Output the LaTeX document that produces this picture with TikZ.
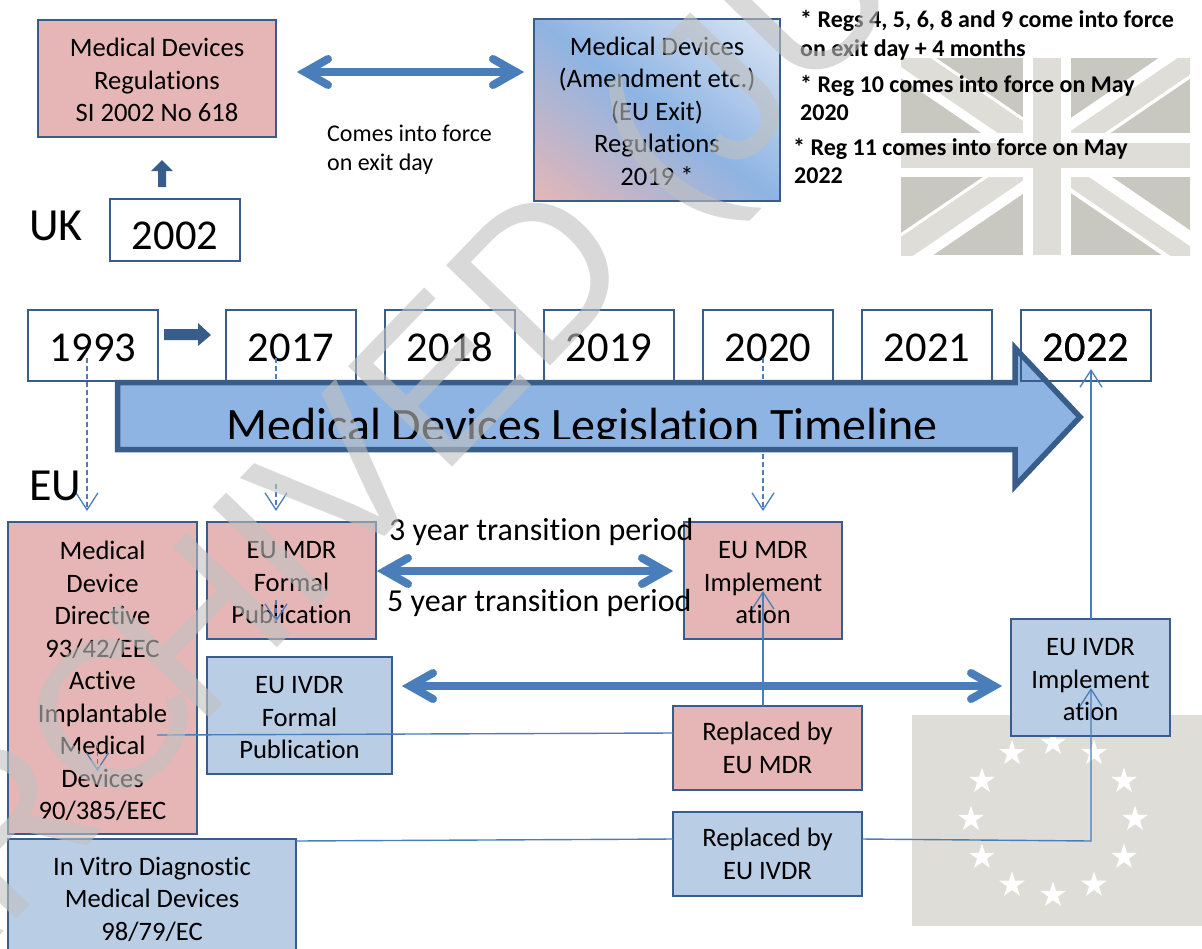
\documentclass[tikz,border=0pt]{standalone}
\usepackage{fontspec}
\setmainfont{Carlito}[Ligatures={NoCommon}]
\newfontfamily\wmfont{Liberation Sans}
\usetikzlibrary{arrows.meta,shapes.geometric,calc}
\definecolor{pinkbox}{HTML}{E6B6B6}
\definecolor{bluebox}{HTML}{B9CDE5}
\definecolor{edge}{HTML}{385D8A}
\definecolor{conn}{HTML}{4A7EBB}
\definecolor{bigfill}{HTML}{8EB4E3}
\definecolor{lightblue}{HTML}{DCE6F4}
\definecolor{flagdark}{HTML}{C8C8C0}
\definecolor{flaglight}{HTML}{DEDDD7}
\definecolor{wm}{HTML}{C0C0C0}
\pgfdeclarehorizontalshading{regsgrad}{100bp}{color(0bp)=(pinkbox);color(15bp)=(pinkbox);color(50bp)=(bigfill);color(85bp)=(lightblue);color(100bp)=(lightblue)}
\newcommand{\tl}[1]{\rule{0pt}{#1pt}}
% bands of the flag, measured as vertical offsets from its two diagonals
\newcommand{\mainband}[3]{\fill[#3] (901,58+#1) -- (1191,256+#1) -- (1191,256+#2) -- (901,58+#2) -- cycle;}
\newcommand{\antiband}[3]{\fill[#3] (901,256+#1) -- (1191,58+#1) -- (1191,58+#2) -- (901,256+#2) -- cycle;}
\tikzset{
  x=1pt,y=-1pt,
  boxtext/.style={font=\fontsize{26.6}{32.5}\selectfont,align=center},
  plain/.style={draw=edge,line width=1.8pt,inner sep=0pt,outer sep=0pt,text=black},
  pinkb/.style={plain,boxtext,fill=pinkbox},
  blueb/.style={plain,boxtext,fill=bluebox},
  yearb/.style={plain,fill=white,font=\fontsize{42.5}{42.5}\selectfont,minimum width=130pt,minimum height=71pt,text height=31pt,text depth=0pt},
  bigdbl/.style={draw=conn,line width=8pt,line cap=round,line join=miter,miter limit=10},
  thin/.style={draw=conn,line width=1.4pt},
  tipo/.style={-{Straight Barb[length=17pt,width=22pt,line width=1.3pt]}},
  dashc/.style={thin,dash pattern=on 5pt off 3pt},
  note/.style={font=\fontsize{24}{29}\selectfont\bfseries,anchor=base west,inner sep=0pt},
  small/.style={font=\fontsize{24}{29}\selectfont,anchor=base west,inner sep=0pt},
  big/.style={font=\fontsize{46}{46}\selectfont,anchor=base west,inner sep=0pt},
  trans/.style={font=\fontsize{32}{32}\selectfont,anchor=base west,inner sep=0pt},
}
\begin{document}
\begin{tikzpicture}
\clip (0,0) rectangle (1202,948);
\fill[white] (0,0) rectangle (1202,948);

% Union flag
\fill[flagdark] (901,58) rectangle (1190,255);
\begin{scope}
\clip (901,58) rectangle (1023,133);
\mainband{-24}{-20}{white}\mainband{-20}{9}{flaglight}\mainband{9}{20}{white}
\end{scope}
\begin{scope}
\clip (1071,177) rectangle (1190,255);
\mainband{-25}{-9}{white}\mainband{-9}{14}{flaglight}\mainband{14}{19}{white}
\end{scope}
\begin{scope}
\clip (1071,58) rectangle (1190,133);
\antiband{-22}{-9}{white}\antiband{-9}{16}{flaglight}\antiband{16}{20}{white}
\end{scope}
\begin{scope}
\clip (901,177) rectangle (1023,255);
\antiband{-23}{-19}{white}\antiband{-19}{8}{flaglight}\antiband{8}{21}{white}
\end{scope}
\fill[white] (1023,58) rectangle (1071,255);
\fill[white] (901,133) rectangle (1190,177);
\fill[flaglight] (1033,58) rectangle (1061,255);
\fill[flaglight] (901,143) rectangle (1190,168);

% EU flag
\fill[flaglight] (912,715) rectangle (1202,926);
\foreach \a in {0,30,...,330}
  \node[star,star points=5,star point ratio=2.618,fill=white,inner sep=0pt,minimum size=27pt,rotate=0] (st\a) at ({1053+82*cos(\a)},{819+76*sin(\a)}) {};

% UK part
\node[pinkb,minimum width=238pt,minimum height=117pt] (mdr) at (157,78.5) {\tl{21.5}Medical Devices\\Regulations\\SI 2002 No 618};
\node[plain,fill=white,font=\fontsize{42.5}{42.5}\selectfont,minimum width=130pt,minimum height=62pt,text height=38pt,text depth=0pt] (y2002) at (175,230) {2002};
\fill[edge] (158,187) -- (158,171) -- (151,171) -- (162,160) -- (173,171) -- (166,171) -- (166,187) -- cycle;
\node[plain,boxtext,shading=regsgrad,shading angle=53,minimum width=246pt,minimum height=182pt] (regs) at (657,110) {\tl{21}Medical Devices\\(Amendment etc.)\\(EU Exit)\\Regulations\\2019 *};
\coordinate (d1a) at (305,72); \coordinate (d1b) at (516,72);
\draw[bigdbl] (d1a) -- (d1b);
\draw[bigdbl] ($(d1a)+(23,-13)$) -- (d1a) -- ($(d1a)+(23,13)$);
\draw[bigdbl] ($(d1b)+(-23,-13)$) -- (d1b) -- ($(d1b)+(-23,13)$);
\node[small] (force1) at (327,141) {Comes into force};
\node[small] (force2) at (327,170) {on exit day};
\node[big] (uk) at (29,240) {UK};
\node[note] (n1) at (800,27) {* Regs 4, 5, 6, 8 and 9 come into force};
\node[note] (n2) at (800,56) {on exit day + 4 months};
\node[note] (n3) at (800,92) {* Reg 10 comes into force on May};
\node[note] (n4) at (800,120) {2020};
\node[note] (n5) at (793,155) {* Reg 11 comes into force on May};
\node[note] (n6) at (794,183) {2022};

% Year boxes
\node[yearb] (y1993) at (93,345.5) {1993};
\node[yearb] (y2017) at (291,345.5) {2017};
\node[yearb] (y2018) at (450,345.5) {2018};
\node[yearb] (y2019) at (609,345.5) {2019};
\node[yearb] (y2020) at (768,345.5) {2020};
\node[yearb] (y2021) at (927,345.5) {2021};
\node[yearb] (y2022) at (1086,345.5) {2022};
\fill[edge] (164,329) -- (198,329) -- (198,323) -- (211,335) -- (198,346) -- (198,340) -- (164,340) -- cycle;

% dashed connectors (behind the big arrow)
\coordinate (c1993) at (87,358); \coordinate (e1993) at (87,511);
\coordinate (c2017) at (276,358); \coordinate (m2017) at (276,381);
\coordinate (n2017) at (276,484); \coordinate (e2017) at (276,511);
\coordinate (c2020) at (763,358); \coordinate (e2020) at (763,511);
\draw[dashc,tipo] (c1993) -- (e1993);
\draw[dashc] (c2017) -- (m2017);
\draw[dashc,tipo] (n2017) -- (e2017);
\draw[dashc,tipo] (c2020) -- (e2020);

% big arrow
\path[fill=bigfill,draw=edge,line width=5.5pt,line join=miter,miter limit=10]
  (117.7,382.5) -- (1015,382.5) -- (1015,348) -- (1080,417) -- (1015,486) -- (1015,449.7) -- (117.7,449.7) -- cycle;
\begin{scope}
\clip (120,395) rectangle (1015,438.5);
\node[font=\fontsize{48}{48}\selectfont,anchor=base,inner sep=0pt] (title) at (582,441) {Medical Devices Legislation Timeline};
\end{scope}
\draw[edge,line width=1.5pt] (y2022.north west) rectangle (y2022.south east);
\node[font=\fontsize{42.5}{42.5}\selectfont,inner sep=0pt,text height=31pt,text depth=0pt] (y2022t) at (y2022.center) {2022};

\node[big] (eu) at (29,500) {EU};

% EU boxes
\node[pinkb,minimum width=189pt,minimum height=312pt] (mdd) at (102.5,678) {\tl{24.5}Medical\\Device\\Directive\\93/42/EEC\\Active\\Implantable\\Medical\\Devices\\90/385/EEC};
\node[pinkb,minimum width=169pt,minimum height=117pt] (mdrf) at (291.5,580.5) {\tl{22}EU MDR\\Formal\\Publication};
\node[blueb,minimum width=185pt,minimum height=117pt] (ivdrf) at (299.5,715.5) {\tl{22}EU IVDR\\Formal\\Publication};
\node[blueb,minimum width=288pt,minimum height=120pt] (ivd) at (152,899) {In Vitro Diagnostic\\Medical Devices\\98/79/EC};
\node[pinkb,minimum width=158pt,minimum height=117pt] (mdri) at (763,580.5) {\tl{22}EU MDR\\Implement\\ation};
\node[blueb,minimum width=159pt,minimum height=117pt] (ivdri) at (1090.5,677.5) {\tl{22}EU IVDR\\Implement\\ation};
\node[pinkb,minimum width=189pt,minimum height=84pt] (repm) at (767.5,748) {Replaced by\\EU MDR};
\node[blueb,minimum width=189pt,minimum height=84pt] (repi) at (767.5,854) {Replaced by\\EU IVDR};

\node[trans] (t3) at (389,540) {3 year transition period};
\node[trans] (t5) at (387,611) {5 year transition period};

\coordinate (d2a) at (385,571); \coordinate (d2b) at (665,571);
\draw[bigdbl] (d2a) -- (d2b);
\draw[bigdbl] ($(d2a)+(23,-13)$) -- (d2a) -- ($(d2a)+(23,13)$);
\draw[bigdbl] ($(d2b)+(-23,-13)$) -- (d2b) -- ($(d2b)+(-23,13)$);
\coordinate (d3a) at (410,686); \coordinate (d3b) at (994,686);
\draw[bigdbl] (d3a) -- (d3b);
\draw[bigdbl] ($(d3a)+(23,-13)$) -- (d3a) -- ($(d3a)+(23,13)$);
\draw[bigdbl] ($(d3b)+(-23,-13)$) -- (d3b) -- ($(d3b)+(-23,13)$);

% small inner dashed arrows
\coordinate (s1a) at (276,600); \coordinate (s1b) at (276,622);
\coordinate (s2a) at (97.5,743); \coordinate (s2b) at (97.5,771);
\draw[dashc,tipo] (s1a) -- (s1b);
\draw[dashc,tipo] (s2a) -- (s2b);

% solid connectors
\coordinate (m1) at (157,735);
\coordinate (a1) at (763,591);
\coordinate (corner) at (1091,841);
\coordinate (a2) at (1091,688);
\coordinate (a3) at (1091,369);
\draw[thin] (m1) -- (repm.west |- 0,733);
\draw[thin] (ivd.east |- 0,841) -- (repi.west |- 0,839);
\draw[thin,tipo] (repm.north -| a1) -- (a1);
\draw[thin,tipo] (repi.east |- 0,839) -- (corner) -- (a2);
\draw[thin,tipo] (ivdri.north -| a3) -- (a3);

% watermark
\node[font=\wmfont\fontsize{210}{210}\selectfont,text=wm,opacity=0.6,rotate=46,anchor=base west,inner sep=0pt] (wmk) at (-93,1032) {ARC\kern-25pt HIVED (JU};
\end{tikzpicture}
\end{document}
